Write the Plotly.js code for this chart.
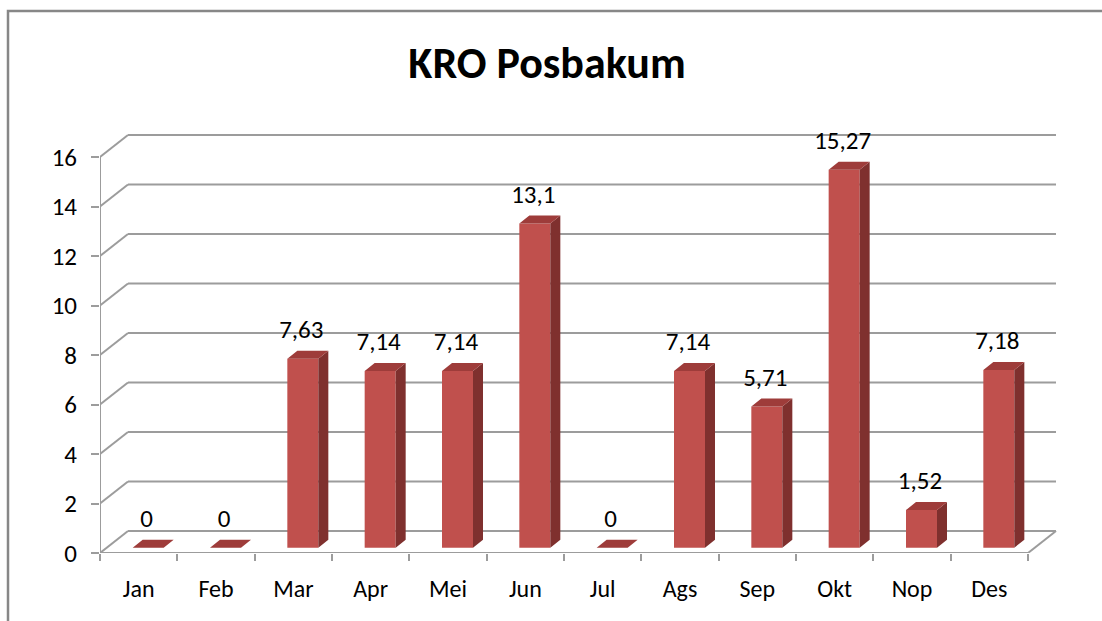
<!DOCTYPE html>
<html><head><meta charset="utf-8">
<script src="https://cdn.plot.ly/plotly-3.0.1.min.js"></script>
<style>html,body{margin:0;padding:0;background:#fff;} #chart{width:1102px;height:621px;}</style>
</head><body><div id="chart"></div>
<script>
// ---- data ----
const months = ['Jan','Feb','Mar','Apr','Mei','Jun','Jul','Ags','Sep','Okt','Nop','Des'];
const values = [0, 0, 7.63, 7.14, 7.14, 13.1, 0, 7.14, 5.71, 15.27, 1.52, 7.18];
const valueLabels = ['0','0','7,63','7,14','7,14','13,1','0','7,14','5,71','15,27','1,52','7,18'];
const yTicks = [0, 2, 4, 6, 8, 10, 12, 14, 16];
const chartTitle = 'KRO Posbakum';

// ---- geometry (pixels -> axis units) ----
const W = 1102, H = 621, mL = 100, mR = 36, mT = 100, mB = 68;
const plotW = W - mL - mR, plotH = H - mT - mB;
const pxX = 77.333, pxY = 24.75;
const xMax = plotW / pxX, yMax = plotH / pxY;
const ux = p => p / pxX, uy = p => p / pxY;
const nCat = months.length;
const yTop = yTicks[yTicks.length - 1];

const wallDX = ux(28), wallDY = uy(22);
const barOff = ux(9.5), barW = ux(31), barBase = uy(5.3);
const depDX = ux(10), depDY = uy(8);

const FONT = 'Carlito, Lato, "Open Sans", sans-serif';
const GRID = '#9c9c9c';

const centers = months.map((m, i) => i + 0.5);
const frontX = centers.map(c => c + barOff);

// top & side faces of the 3D bars, built from the values
const topX = [], topY = [], sideX = [], sideY = [];
values.forEach((v, i) => {
  const L = frontX[i] - barW / 2, R = frontX[i] + barW / 2, T = barBase + v, B = barBase;
  topX.push(L, R, R + depDX, L + depDX, L, null);
  topY.push(T, T, T + depDY, T + depDY, T, null);
  if (v > 0) {
    sideX.push(R, R, R + depDX, R + depDX, R, null);
    sideY.push(B, T, T + depDY, B + depDY, B, null);
  }
});

const traces = [
  { type: 'bar', x: frontX, y: values, base: barBase, width: barW,
    marker: { color: '#C0504D', line: { width: 0 } }, hoverinfo: 'skip', showlegend: false },
  { type: 'scatter', mode: 'lines', x: sideX, y: sideY, fill: 'toself', fillcolor: '#7F302E',
    line: { width: 0, color: '#7F302E' }, hoverinfo: 'skip', showlegend: false },
  { type: 'scatter', mode: 'lines', x: topX, y: topY, fill: 'toself', fillcolor: '#9E3C3A',
    line: { width: 0, color: '#9E3C3A' }, hoverinfo: 'skip', showlegend: false },
  { type: 'scatter', mode: 'text', x: frontX.map(x => x - ux(1.5)),
    y: values.map(v => barBase + v + uy(27)), text: valueLabels, textposition: 'middle center',
    textfont: { family: FONT, size: 25, color: '#000' }, hoverinfo: 'skip', showlegend: false, cliponaxis: false },
  { type: 'scatter', mode: 'markers', x: [0], y: [0], xaxis: 'x2', marker: { opacity: 0 },
    hoverinfo: 'skip', showlegend: false }
];

// decorative 3D walls: back-wall gridlines, side-wall diagonals, floor
const shapes = [];
const ln = (x0, y0, x1, y1) => ({ type: 'line', xref: 'x', yref: 'y', x0, y0, x1, y1,
  line: { color: GRID, width: 2 }, layer: 'below' });
yTicks.forEach(v => {
  shapes.push(ln(wallDX, v + wallDY, nCat + wallDX, v + wallDY));
  shapes.push(ln(0, v, wallDX, v + wallDY));
});
shapes.push(ln(0, 0, nCat, 0));
shapes.push(ln(nCat, 0, nCat + wallDX, wallDY));
shapes.push(ln(0, 0, 0, yTop));
// outer chart border (left and top edges visible)
const px2paperX = p => (p - mL) / plotW, px2paperY = p => (H - mB - p) / plotH;
shapes.push({ type: 'path', xref: 'paper', yref: 'paper',
  path: `M ${px2paperX(8)} ${px2paperY(640)} L ${px2paperX(8)} ${px2paperY(11)} L ${px2paperX(1120)} ${px2paperY(11)}`,
  line: { color: '#878787', width: 2.5 }, layer: 'below' });

const layout = {
  width: W, height: H, autosize: false,
  margin: { l: mL, r: mR, t: mT, b: mB, pad: 0 },
  paper_bgcolor: '#fff', plot_bgcolor: 'rgba(0,0,0,0)',
  title: { text: chartTitle, xref: 'container', yref: 'container', x: 547 / W, xanchor: 'center',
    y: 1 - 63 / H, yanchor: 'middle', font: { family: FONT, size: 44, color: '#000', weight: 700 } },
  showlegend: false,
  xaxis: { range: [0, xMax], tickvals: centers, ticktext: months, ticks: '', showgrid: false,
    zeroline: false, showline: false, fixedrange: true, ticklabelstandoff: 19,
    tickfont: { family: FONT, size: 24, color: '#000' } },
  xaxis2: { range: [0, xMax], overlaying: 'x', anchor: 'y', side: 'bottom',
    tickvals: months.map((m, i) => i).concat([nCat]), ticks: 'outside', ticklen: 7, tickwidth: 2,
    tickcolor: GRID, showticklabels: false, showgrid: false, zeroline: false, showline: false },
  yaxis: { range: [0, yMax], tickvals: yTicks, ticks: 'outside', ticklen: 8, tickwidth: 2,
    tickcolor: GRID, showgrid: false, zeroline: false, showline: false, ticklabelstandoff: 9,
    tickfont: { family: FONT, size: 25, color: '#000' } },
  shapes: shapes
};

Plotly.newPlot('chart', traces, layout, { staticPlot: true, displayModeBar: false });
</script>
</body></html>
